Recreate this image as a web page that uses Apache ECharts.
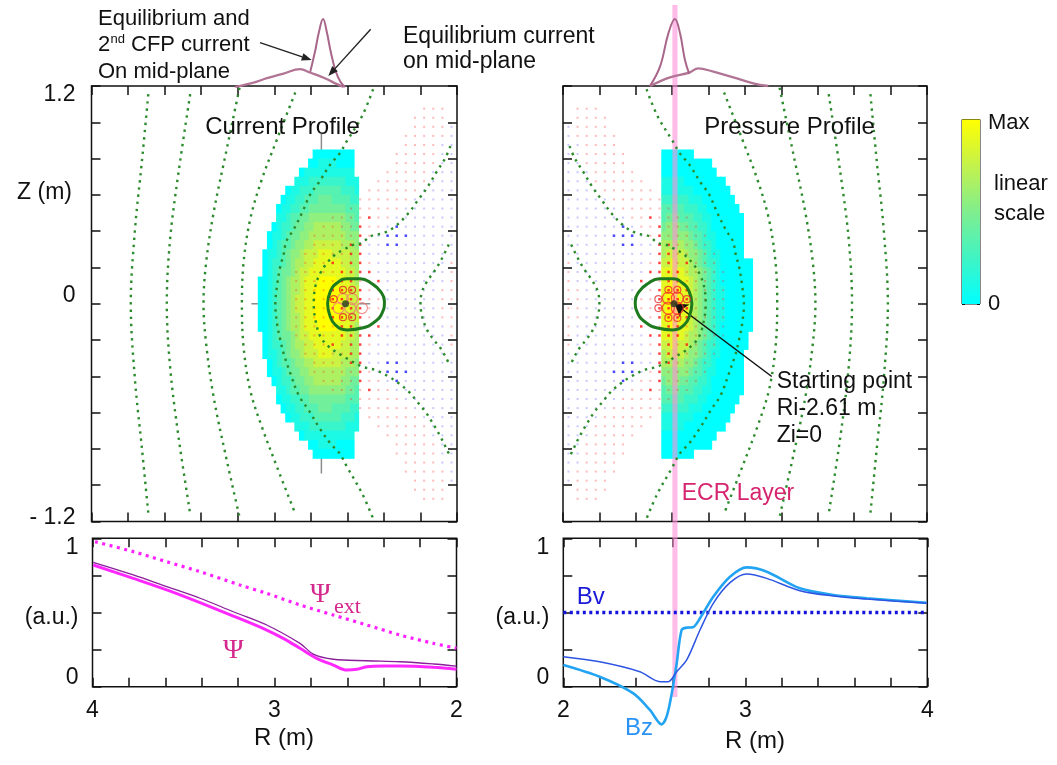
<!DOCTYPE html>
<html>
<head>
<meta charset="utf-8">
<title>Current and pressure profiles</title>
<script src="https://cdn.jsdelivr.net/npm/echarts@6/dist/echarts.min.js"></script>
<style>
html,body{margin:0;padding:0;background:#ffffff;}
#chart{width:1057px;height:765px;}
</style>
</head>
<body>
<div id="chart"></div>
<script>
// ================= DATA =================
// tick labels
const rTickValues = [2, 3, 4];
const rTickTexts = ['2', '3', '4'];
const zTickValues = [1.2, 0, -1.2];
const zTickTexts = ['1.2', '0', '- 1.2'];
const auTickValues = [0, 0.5, 1];
const auTickTexts = ['0', '(a.u.)', '1'];

// heat maps: one string per Z row (top to bottom), one digit per R cell (from R = heatR0 upward), 0..9 = 0..Max
const heatR0 = 2.54, heatDR = 0.025, heatDZ = 0.05, heatZTop = 0.85;
const currentRows = [
  ".000000000",
  ".0000111100",
  ".111111111110",
  "11122222222111",
  "1222333333222110",
  "22333344433322110",
  "333444444443322110",
  "344555555554433211",
  "4455666666554432210",
  "55566666666554432110",
  "56667777776655433210",
  "667777888777655432110",
  "667788888877665432210",
  "677888888887765443210",
  "6788899998887665432100",
  "7788999999887665432100",
  "7788999999887765432100",
  "7788999999887765432100",
  "7788999999887665432100",
  "6788899998887665432100",
  "677888888887765443210",
  "667788888877665432210",
  "667777888777655432110",
  "56667777776655433210",
  "55566666666554432110",
  "4455666666554432210",
  "344555555554433211",
  "333444444443322110",
  "22333344433322110",
  "1222333333222110",
  "11122222222111",
  ".111111111110",
  ".0000111100",
  ".000000000"
];
const pressureRows = [
  "0000000",
  "00000000000",
  "000000000000",
  "11111000000000",
  "111111100000000",
  "2222221110000000",
  "33333222110000000",
  "344433322110000000",
  "455544332210000000",
  "555555433211000000",
  "666665543221000000",
  "677776554321100000",
  "77877765432210000000",
  "88888766543210000000",
  "88988876543210000000",
  "89998876543211000000",
  "89998876543211000000",
  "89998876543211000000",
  "89998876543211000000",
  "88988876543210000000",
  "8888876654321000000",
  "7787776543221000000",
  "677776554321100000",
  "666665543221000000",
  "555555433211000000",
  "455544332210000000",
  "344433322110000000",
  "33333222110000000",
  "2222221110000000",
  "111111100000000",
  "11111000000000",
  "000000000000",
  "00000000000",
  "0000000"
];

// field-point dots: r/R = red (faint/strong), b/B = blue (faint/strong)
const dotR = [2.03, 2.08, 2.13, 2.18, 2.23, 2.28, 2.33, 2.38, 2.43, 2.48, 2.53, 2.58, 2.63, 2.68, 2.73, 2.78, 2.83, 2.88];
const dotZ = [1.075, 1.025, 0.975, 0.925, 0.875, 0.825, 0.775, 0.725, 0.675, 0.625, 0.575, 0.525, 0.475, 0.425, 0.375, 0.325, 0.275, 0.225, 0.175, 0.125, 0.075, 0.025,
  -0.025, -0.075, -0.125, -0.175, -0.225, -0.275, -0.325, -0.375, -0.425, -0.475, -0.525, -0.575, -0.625, -0.675, -0.725, -0.775, -0.825, -0.875, -0.925, -0.975, -1.025, -1.075];
const dotMask = [
  ".rrr..............",
  ".rrrr.............",
  "brrrr.............",
  "brrrrr............",
  "bbrrrr............",
  "bbrrrrr...........",
  "bbrrrrr...........",
  "bbbrrrrr..........",
  "bbbrrrrrr.........",
  "bbbbrrrrrr........",
  "bbbbbrrrrrr.......",
  "bbbbbbrrrrrr......",
  "bbbbbbbrrRrrrr....",
  "bbbbbbBbrrRrrrr...",
  "bbbbbBBBbrRrrrrr..",
  "bbbbbbBBbbRRrrrr..",
  "bbbbbbbbbbRRrrrrr.",
  "rbbbbbbbbrRRrRrrr.",
  "rbbbbbbbbRRRRrrrrr",
  "rbbbbbbbRrrRRrrrrr",
  "rrbbbbbbrrRRRRrrrr",
  "rrbbbbbbrrRRRRrrrr",
  "rrbbbbbbrrRRRRrrrr",
  "rrbbbbbbrrRRRRrrrr",
  "rbbbbbbbRrrRRrrrrr",
  "rbbbbbbbbRRRRrrrrr",
  "rbbbbbbbbrRRrRrrr.",
  "bbbbbbbbbbRRrrrrr.",
  "bbbbbbBBbbRRrrrr..",
  "bbbbbBBBbrRrrrrr..",
  "bbbbbbBbrrRrrrr...",
  "bbbbbbbrrRrrrr....",
  "bbbbbbrrrrrr......",
  "bbbbbrrrrrr.......",
  "bbbbrrrrrr........",
  "bbbrrrrrr.........",
  "bbbrrrrr..........",
  "bbrrrrr...........",
  "bbrrrrr...........",
  "bbrrrr............",
  "brrrrr............",
  "brrrr.............",
  ".rrrr.............",
  ".rrr.............."
];

// flux contours [R, Z]
const fluxA = [[3.689,1.155],[3.725,0.777],[3.762,0.409],[3.785,0],[3.762,-0.42],[3.725,-0.788],[3.689,-1.156]];
const fluxB = [[3.46,1.155],[3.524,0.722],[3.57,0.354],[3.588,0],[3.57,-0.346],[3.524,-0.733],[3.46,-1.157]];
const fluxC = [[3.19,1.19],[3.268,0.814],[3.332,0.501],[3.373,0.225],[3.387,0],[3.373,-0.217],[3.332,-0.512],[3.268,-0.825],[3.19,-1.175]];
const fluxD = [[2.885,1.164],[2.985,0.906],[3.068,0.685],[3.132,0.464],[3.168,0.225],[3.177,0],[3.168,-0.236],[3.132,-0.475],[3.068,-0.678],[2.985,-0.899],[2.885,-1.157]];
const fluxE = [[2.459,1.182],[2.519,1.035],[2.602,0.897],[2.642,0.829],[2.693,0.768],[2.757,0.667],[2.803,0.602],[2.848,0.501],[2.894,0.409],[2.934,0.344],[2.949,0.271],[2.967,0.206],[2.985,0.096],[2.994,0],[2.985,-0.107],[2.967,-0.199],[2.949,-0.273],[2.912,-0.383],[2.867,-0.503],[2.812,-0.586],[2.757,-0.678],[2.693,-0.77],[2.642,-0.825],[2.602,-0.899],[2.519,-1.046],[2.459,-1.184]];
const fluxG = [[2.036,0.869],[2.063,0.805],[2.109,0.731],[2.164,0.639],[2.218,0.565],[2.264,0.501],[2.337,0.427],[2.401,0.39],[2.474,0.372],[2.52,0.335],[2.565,0.326],[2.62,0.298],[2.666,0.271],[2.711,0.225],[2.748,0.169],[2.775,0.096],[2.784,0],[2.775,-0.088],[2.748,-0.18],[2.702,-0.236],[2.62,-0.291],[2.52,-0.346],[2.447,-0.365],[2.374,-0.401],[2.319,-0.438],[2.264,-0.484],[2.218,-0.54],[2.173,-0.595],[2.127,-0.668],[2.09,-0.733],[2.054,-0.807],[2.036,-0.844]];
const fluxH = [[2.045,0.326],[2.081,0.252],[2.118,0.188],[2.164,0.123],[2.191,0.068],[2.2,0.004],[2.191,-0.07],[2.164,-0.144],[2.127,-0.199],[2.09,-0.245],[2.063,-0.291],[2.045,-0.328]];

// closed orbit around the starting point [R, Z]
const closedCurve = [[2.708,0],[2.693,0.068],[2.657,0.114],[2.602,0.138],[2.529,0.138],[2.465,0.11],[2.419,0.068],[2.397,0.013],[2.41,-0.052],[2.455,-0.103],[2.519,-0.134],[2.602,-0.144],[2.666,-0.116],[2.697,-0.061],[2.708,0]];
const circlesBigL = [[2.624,0.026],[2.574,0.026],[2.648,-0.024],[2.584,-0.024],[2.52,-0.024]];
const circlesSmallL = [[2.624,0.077],[2.574,0.077],[2.675,0.026],[2.624,-0.074],[2.574,-0.074]];
const circlesBigR = [[2.579,0.031],[2.628,0.031],[2.579,-0.024],[2.628,-0.024]];
const circlesSmallR = [[2.579,0.077],[2.628,0.077],[2.524,0.025],[2.524,-0.024],[2.68,0.025],[2.579,-0.078],[2.628,-0.078]];
const startPoint = [2.61, 0];
const crossH = [[3.125,0],[2.475,0]];
const crossV = [[2.742,0.935],[2.742,-0.935]];
const ecrBand = [2.601, 2.629];
const arrowTail = [3.147, -0.401];
const arrowHead = [2.615, 0];

// mid-plane current insets [R, a.u.]
const insetBroadL = [[3.214,0],[3.113,0.057],[3.04,0.114],[2.949,0.175],[2.858,0.233],[2.805,0.188],[2.723,0.114],[2.675,0.057],[2.62,0]];
const insetPeakL = [[2.803,0.199],[2.775,0.481],[2.757,0.697],[2.733,0.883],[2.711,0.697],[2.693,0.481],[2.666,0.221],[2.638,0.069],[2.611,0]];
const insetBroadR = [[2.478,0.013],[2.588,0.126],[2.694,0.186],[2.743,0.243],[2.826,0.199],[2.936,0.126],[3.046,0.048],[3.128,0.013]];
const insetPeakR = [[2.478,0.013],[2.533,0.264],[2.579,0.697],[2.615,0.883],[2.643,0.697],[2.67,0.351],[2.694,0.169]];

// bottom-left: flux functions [R, a.u.]
const psiExt = [[3.986,0.977],[3.776,0.91],[3.592,0.842],[3.409,0.775],[3.19,0.685],[3.043,0.629],[2.86,0.551],[2.677,0.483],[2.493,0.416],[2.31,0.348],[2.127,0.292],[2.0,0.259]];
const psi = [[3.996,0.82],[3.776,0.73],[3.592,0.652],[3.409,0.566],[3.226,0.476],[3.043,0.382],[2.952,0.326],[2.86,0.259],[2.768,0.191],[2.677,0.146],[2.603,0.112],[2.548,0.117],[2.493,0.135],[2.402,0.139],[2.31,0.139],[2.127,0.131],[2.0,0.117]];
const psiEq = [[3.996,0.838],[3.776,0.753],[3.592,0.674],[3.409,0.596],[3.226,0.505],[3.043,0.416],[2.86,0.292],[2.787,0.22],[2.677,0.185],[2.493,0.175],[2.31,0.168],[2.127,0.153],[2.0,0.139]];

// bottom-right: vertical fields [R, a.u.]
const bv = [[2.0,0.5],[4.0,0.5]];
const bzTotal = [[2.0,0.146],[2.2,0.067],[2.385,-0.045],[2.476,-0.157],[2.54,-0.254],[2.568,-0.2],[2.596,-0.045],[2.623,0.157],[2.65,0.382],[2.678,0.398],[2.711,0.4],[2.751,0.461],[2.824,0.606],[2.916,0.741],[3.008,0.804],[3.118,0.775],[3.3,0.663],[3.484,0.618],[3.667,0.596],[3.997,0.566]];
const bzEq = [[2.0,0.202],[2.2,0.168],[2.421,0.101],[2.531,0.034],[2.577,0.034],[2.623,0.101],[2.678,0.18],[2.751,0.382],[2.824,0.562],[2.916,0.701],[3.008,0.759],[3.118,0.73],[3.3,0.647],[3.484,0.611],[3.667,0.591],[3.997,0.562]];

// ================= STYLE / LAYOUT =================
const FONT = '"Liberation Sans", Arial, Helvetica, sans-serif';
const SERIF = '"Liberation Serif", "DejaVu Serif", Times, serif';
const INK = '#111111';
const heatColors = ['#00ffff', '#40f4c4', '#80ee8e', '#c4f24c', '#ffff00'];
const dotStyles = {1:{c:'rgba(255,40,40,0.32)',s:2}, 2:{c:'rgba(255,20,20,0.8)',s:2.5}, 3:{c:'rgba(60,60,255,0.28)',s:2}, 4:{c:'rgba(25,25,255,0.8)',s:2.5}};
const dotCodes = {r:1, R:2, b:3, B:4};

function buildHeat(rows) {
  const out = [];
  rows.forEach(function (row, i) {
    const z = heatZTop - heatDZ * (i + 0.5);
    for (let k = 0; k < row.length; k++) {
      const c = row[k];
      if (c === '.') continue;
      out.push([heatR0 + heatDR * (k + 0.5), z, Number(c)]);
    }
  });
  return out;
}
function buildDots() {
  const out = [];
  dotMask.forEach(function (row, i) {
    for (let k = 0; k < row.length && k < dotR.length; k++) {
      const code = dotCodes[row[k]];
      if (code) out.push([dotR[k], dotZ[i], code]);
    }
  });
  return out;
}
function heatRender(params, api) {
  const r = api.value(0), z = api.value(1);
  const a = api.coord([r - heatDR / 2, z + heatDZ / 2]);
  const b = api.coord([r + heatDR / 2, z - heatDZ / 2]);
  const x = Math.min(a[0], b[0]), y = Math.min(a[1], b[1]);
  return { type: 'rect', shape: { x: x, y: y, width: Math.abs(b[0] - a[0]) + 0.8, height: Math.abs(b[1] - a[1]) + 0.8 },
           style: { fill: api.visual('color') } };
}
function dotRender(params, api) {
  const st = dotStyles[api.value(2)];
  const p = api.coord([api.value(0), api.value(1)]);
  return { type: 'rect', shape: { x: p[0] - st.s / 2, y: p[1] - st.s / 2, width: st.s, height: st.s }, style: { fill: st.c } };
}

const tick = { show: true, inside: true, length: 9, lineStyle: { color: INK, width: 1.5 } };
function pick(vals, texts, styles) {
  return function (v) {
    for (let i = 0; i < vals.length; i++) {
      if (Math.abs(vals[i] - v) < 1e-6) return styles ? '{' + styles[i] + '|' + texts[i] + '}' : texts[i];
    }
    return '';
  };
}
function richSet(size) {
  const base = { fontSize: size, fontFamily: FONT, color: INK };
  return {
    dn9: Object.assign({ padding: [18, 0, 0, 0] }, base),
    dn5: Object.assign({ padding: [10, 0, 0, 0] }, base),
    up9: Object.assign({ padding: [0, 0, 18, 0] }, base),
    up8: Object.assign({ padding: [0, 0, 16, 0] }, base),
    up4: Object.assign({ padding: [0, 0, 8, 0] }, base)
  };
}
function rAxis(g, extra) {
  return Object.assign({ type: 'value', gridIndex: g, min: 2, max: 4, interval: 0.2,
    axisLine: { show: false, onZero: false }, axisTick: tick, axisLabel: { show: false }, splitLine: { show: false } }, extra || {});
}
function zAxis(g, extra) {
  return Object.assign({ type: 'value', gridIndex: g, min: -1.2, max: 1.2, interval: 0.2,
    axisLine: { show: false, onZero: false }, axisTick: tick, axisLabel: { show: false }, splitLine: { show: false } }, extra || {});
}
function auAxis(g, extra) {
  return Object.assign({ type: 'value', gridIndex: g, min: 0, max: 1, interval: 0.25,
    axisLine: { show: false, onZero: false }, axisTick: tick, axisLabel: { show: false }, splitLine: { show: false } }, extra || {});
}
const rLabel = { show: true, margin: 12, fontSize: 23, fontFamily: FONT, color: INK, showMinLabel: true, showMaxLabel: true,
  formatter: pick(rTickValues, rTickTexts) };
const zLabel = { show: true, margin: 16, fontSize: 23, fontFamily: FONT, color: INK, showMinLabel: true, showMaxLabel: true,
  formatter: pick(zTickValues, zTickTexts, ['dn9', 'up8', 'up4']), rich: richSet(23) };
const auLabel = { show: true, margin: 14, fontSize: 23, fontFamily: FONT, color: INK, showMinLabel: true, showMaxLabel: true,
  formatter: pick(auTickValues, auTickTexts, ['up9', 'dn5', 'dn9']), rich: richSet(23) };

const frame = { show: true, borderColor: INK, borderWidth: 1.5, backgroundColor: 'transparent', outerBoundsMode: 'none', containLabel: false };
const grids = [
  Object.assign({ left: 91.5, top: 86, width: 365.5, height: 435.5 }, frame),   // 0 TL
  Object.assign({ left: 563, top: 86, width: 364, height: 435.5 }, frame),      // 1 TR
  Object.assign({ left: 92.5, top: 538.3, width: 364, height: 148.4 }, frame),  // 2 BL
  Object.assign({ left: 563.3, top: 538.3, width: 364, height: 148.4 }, frame), // 3 BR
  { left: 91.5, top: 10, width: 365.5, height: 77, show: false, outerBoundsMode: 'none' }, // 4 inset L
  { left: 563, top: 10, width: 364, height: 77, show: false, outerBoundsMode: 'none' },    // 5 inset R
  { left: 563, top: 5, width: 364, height: 692, show: false, outerBoundsMode: 'none' },    // 6 ECR band
  { left: 962, top: 119.5, width: 18, height: 184.5, show: true, borderColor: INK, borderWidth: 1, outerBoundsMode: 'none' } // 7 colorbar
];
const xAxes = [
  rAxis(0, { inverse: true }),
  rAxis(1),
  rAxis(2, { inverse: true, axisLabel: rLabel }),
  rAxis(3, { axisLabel: rLabel }),
  { type: 'value', gridIndex: 4, min: 2, max: 4, inverse: true, show: false },
  { type: 'value', gridIndex: 5, min: 2, max: 4, show: false },
  { type: 'value', gridIndex: 6, min: 2, max: 4, show: false },
  { type: 'value', gridIndex: 7, min: 0, max: 1, show: false },
  rAxis(0, { inverse: true, position: 'top' }),
  rAxis(1, { position: 'top' }),
  rAxis(2, { inverse: true, position: 'top' }),
  rAxis(3, { position: 'top' })
];
const cbTick = { show: true, inside: true, length: 3, lineStyle: { color: INK, width: 1 } };
const yAxes = [
  zAxis(0, { axisLabel: zLabel }),
  zAxis(1),
  auAxis(2, { axisLabel: auLabel }),
  auAxis(3, { axisLabel: auLabel }),
  { type: 'value', gridIndex: 4, min: 0, max: 1, show: false },
  { type: 'value', gridIndex: 5, min: 0, max: 1, show: false },
  { type: 'value', gridIndex: 6, min: 0, max: 1, show: false },
  { type: 'value', gridIndex: 7, min: 0, max: 1, interval: 0.1, axisLine: { show: false }, axisTick: cbTick, axisLabel: { show: false }, splitLine: { show: false } },
  zAxis(0, { position: 'right' }),
  zAxis(1, { position: 'right' }),
  auAxis(2, { position: 'right' }),
  auAxis(3, { position: 'right' }),
  { type: 'value', gridIndex: 7, min: 0, max: 1, interval: 0.1, position: 'right', axisLine: { show: false }, axisTick: cbTick, axisLabel: { show: false }, splitLine: { show: false } }
];

// ================= SERIES =================
const series = [];
function add(s) { s.silent = true; series.push(s); return series.length - 1; }
function line(g, data, color, width, extra) {
  return add(Object.assign({ type: 'line', xAxisIndex: g, yAxisIndex: g, data: data, symbol: 'none', smooth: 0.35,
    lineStyle: { color: color, width: width }, z: 5 }, extra || {}));
}

// crosshair (under heat map) in current panel
line(0, crossH, '#8c8c8c', 1.5, { smooth: false, z: 1 });
line(0, crossV, '#8c8c8c', 1.5, { smooth: false, z: 1 });

const iHeatL = add({ type: 'custom', xAxisIndex: 0, yAxisIndex: 0, data: buildHeat(currentRows), encode: { x: 0, y: 1 }, renderItem: heatRender, z: 2 });
const iHeatR = add({ type: 'custom', xAxisIndex: 1, yAxisIndex: 1, data: buildHeat(pressureRows), encode: { x: 0, y: 1 }, renderItem: heatRender, z: 2 });

// ECR layer band spanning the whole right column
add({ type: 'custom', xAxisIndex: 6, yAxisIndex: 6, data: [[ecrBand[0], ecrBand[1]]], encode: { x: [0, 1] }, z: 3,
  renderItem: function (params, api) {
    const a = api.coord([api.value(0), 1]), b = api.coord([api.value(1), 0]);
    return { type: 'rect', shape: { x: a[0], y: a[1], width: b[0] - a[0], height: b[1] - a[1] }, style: { fill: '#ff8fd8', opacity: 0.6 } };
  } });

// colour bar
add({ type: 'custom', xAxisIndex: 7, yAxisIndex: 7, data: [[0, 0]], encode: { x: 0, y: 1 }, z: 2,
  renderItem: function (params, api) {
    const a = api.coord([0, 1]), b = api.coord([1, 0]);
    const stops = heatColors.map(function (c, i) { return { offset: i / (heatColors.length - 1), color: c }; });
    return { type: 'rect', shape: { x: a[0], y: a[1], width: b[0] - a[0], height: b[1] - a[1] },
             style: { fill: new echarts.graphic.LinearGradient(0, 1, 0, 0, stops) } };
  } });

[0, 1].forEach(function (g) {
  add({ type: 'custom', xAxisIndex: g, yAxisIndex: g, data: buildDots(), encode: { x: 0, y: 1 }, renderItem: dotRender, z: 4 });
  [fluxA, fluxB, fluxC, fluxD, fluxE, fluxG, fluxH].forEach(function (c) {
    line(g, c, '#2b8a2b', 2.4, { lineStyle: { color: '#2b8a2b', width: 2.4, type: [2.4, 4.8] } });
  });
});

// closed orbit + starting point
line(0, closedCurve, '#1e7a1e', 3, { smooth: 0.5, z: 6 });
line(1, closedCurve, '#1e7a1e', 3, { smooth: 0.5, z: 6,
  markLine: { silent: true, symbol: ['none', 'arrow'], symbolSize: 12, animation: false, label: { show: false },
    lineStyle: { color: INK, width: 1.5, type: 'solid' },
    data: [[{ coord: arrowTail }, { coord: arrowHead }]] } });
function circles(g, data, size, color) {
  add({ type: 'scatter', xAxisIndex: g, yAxisIndex: g, data: data, symbol: 'circle', symbolSize: size, z: 7,
    itemStyle: { color: 'rgba(0,0,0,0)', borderColor: color, borderWidth: 1.2 } });
}
circles(0, circlesBigL, 11, '#f07a7a');
circles(0, circlesSmallL, 7, '#e02a2a');
circles(1, circlesBigR, 12, '#ff2a2a');
circles(1, circlesSmallR, 7, '#e83030');
[0, 1].forEach(function (g) {
  add({ type: 'scatter', xAxisIndex: g, yAxisIndex: g, data: [startPoint], symbol: 'circle', symbolSize: 7, z: 8,
    itemStyle: { color: '#1f3f1f' } });
});

// insets
line(4, insetBroadL, '#b27495', 2.3, { clip: false, smooth: 0.4 });
line(4, insetPeakL, '#a8668a', 2.0, { clip: false, smooth: 0.4 });
line(5, insetBroadR, '#b27495', 2.3, { clip: false, smooth: 0.4 });
line(5, insetPeakR, '#a8668a', 2.0, { clip: false, smooth: 0.4 });

// bottom-left
line(2, psiExt, '#ff22ff', 3.2, { lineStyle: { color: '#ff22ff', width: 3.2, type: [3, 4.5] }, smooth: 0.3 });
line(2, psi, '#ff28ff', 3, { smooth: 0.35 });
line(2, psiEq, '#8a1f9a', 1.3, { smooth: 0.35 });
// bottom-right
line(3, bv, '#1414dc', 3.4, { smooth: false, lineStyle: { color: '#1414dc', width: 3.4, type: [3, 3.5] } });
line(3, bzTotal, '#22a4f2', 2.6, { clip: false, smooth: 0.3 });
line(3, bzEq, '#2d55e2', 1.5, { clip: false, smooth: 0.3 });

// ================= ANNOTATIONS =================
function txt(s, x, y, size, align, color, family) {
  return { type: 'text', x: x, y: y, z: 100, silent: true,
    style: { text: s, font: size + 'px ' + (family || FONT), fill: color || INK, align: align || 'left', verticalAlign: 'middle' } };
}
function arrow(x1, y1, x2, y2) {
  const dx = x2 - x1, dy = y2 - y1, L = Math.hypot(dx, dy), ux = dx / L, uy = dy / L, hl = 10, hw = 3.8;
  const bx = x2 - hl * ux, by = y2 - hl * uy;
  return [
    { type: 'line', z: 100, silent: true, shape: { x1: x1, y1: y1, x2: bx, y2: by }, style: { stroke: '#222', lineWidth: 1.4 } },
    { type: 'polygon', z: 100, silent: true, shape: { points: [[x2, y2], [bx - hw * uy, by + hw * ux], [bx + hw * uy, by - hw * ux]] }, style: { fill: '#222' } }
  ];
}
const graphics = [
  txt('Equilibrium and', 98, 19, 22),
  txt('2', 98, 45, 22),
  txt('nd', 110.5, 39, 13),
  txt('CFP current', 131, 45, 22),
  txt('On mid-plane', 98, 72, 22),
  txt('Equilibrium current', 403, 37, 23),
  txt('on mid-plane', 403, 62, 23),
  txt('Current Profile', 282.5, 127, 24, 'center'),
  txt('Pressure Profile', 789.5, 127, 24, 'center'),
  txt('Z (m)', 72, 193, 23, 'right'),
  txt('Starting point', 776.7, 382, 23),
  txt('Ri-2.61 m', 776.7, 409, 23),
  txt('Zi=0', 776.7, 436, 23),
  txt('ECR Layer', 681.7, 494, 23, 'left', '#d6246e'),
  txt('Max', 988, 122.5, 22),
  txt('linear', 994, 184, 22),
  txt('scale', 994, 214, 22),
  txt('0', 988, 304, 22),
  txt('R (m)', 284, 738, 24, 'center'),
  txt('R (m)', 755, 741, 24, 'center'),
  txt('Bv', 576.7, 597, 24, 'left', '#1a1ad8'),
  txt('Bz', 625, 728, 24, 'left', '#2a92f2'),
  txt('\u03A8', 223, 651, 28, 'left', '#d4288c', SERIF),
  txt('\u03A8', 310, 595, 28, 'left', '#d4288c', SERIF),
  txt('ext', 334, 607, 22, 'left', '#d4288c', SERIF)
].concat(arrow(260, 42.7, 311.7, 60), arrow(370.7, 29.3, 328.3, 76));

const chart = echarts.init(document.getElementById('chart'), null, { renderer: 'canvas' });
chart.setOption({
  animation: false,
  backgroundColor: '#ffffff',
  textStyle: { fontFamily: FONT },
  grid: grids,
  xAxis: xAxes,
  yAxis: yAxes,
  visualMap: [{ type: 'continuous', show: false, min: 0, max: 9, dimension: 2, seriesIndex: [iHeatL, iHeatR], inRange: { color: heatColors } }],
  series: series,
  graphic: { elements: graphics }
});
</script>
</body>
</html>
